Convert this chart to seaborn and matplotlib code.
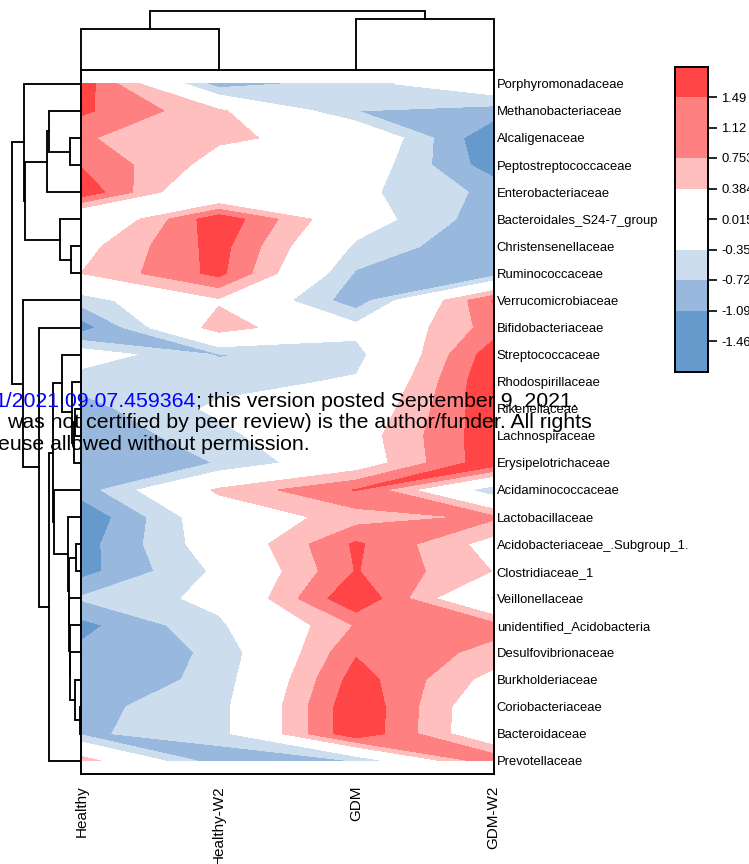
import numpy as np
import pandas as pd
import seaborn as sns
import matplotlib
matplotlib.use("Agg")
import matplotlib.pyplot as plt
from matplotlib.colors import ListedColormap
from matplotlib.tri import Triangulation

# ---------- data ----------
taxa = ["Porphyromonadaceae", "Methanobacteriaceae", "Alcaligenaceae", "Peptostreptococcaceae",
        "Enterobacteriaceae", "Bacteroidales_S24-7_group", "Christensenellaceae", "Ruminococcaceae",
        "Verrucomicrobiaceae", "Bifidobacteriaceae", "Streptococcaceae", "Rhodospirillaceae",
        "Rikenellaceae", "Lachnospiraceae", "Erysipelotrichaceae", "Acidaminococcaceae",
        "Lactobacillaceae", "Acidobacteriaceae_.Subgroup_1.", "Clostridiaceae_1", "Veillonellaceae",
        "unidentified_Acidobacteria", "Desulfovibrionaceae", "Burkholderiaceae", "Coriobacteriaceae",
        "Bacteroidaceae", "Prevotellaceae"]
groups = ["Healthy", "Healthy-W2", "GDM", "GDM-W2"]
healthy = [1.35, 1.19, .79, 1.09, 1.43, -.36, .23, .385, -.565, -1.3, -.09, -.6, -.87,
           -1.05, -.95, -.92, -1.41, -1.26, -1.23, -.68, -1.21, -1.0, -1.05, -.82, -.78, .6]
healthy_w2 = [-.92, .46, .45, .2, -.375, 1.4, 1.27, 1.23, .317, .62, -.75, -.5, -.27,
              -.47, -.71, .46, .03, -.07, -.27, -.23, -.43, -.66, -.6, -.52, -.52, -.98]
gdm = [-.5, -.72, .22, -.01, -.25, -.1, -.43, -.77, -.95, -.22, -.5, -.3, -.03,
       .15, .08, 1.14, .57, 1.18, 1.14, 1.47, .78, 1.08, 1.3, 1.44, 1.44, -.71]
gdm_w2 = [.025, -.895, -1.46, -1.31, -.83, -.96, -1.06, -.94, 1.15, .92, 1.35, 1.46, 1.41,
          1.38, 1.39, -.66, .82, .2, .37, -.42, .89, .64, .22, -.08, -.1, 1.05]

levels = [-1.83, -1.46, -1.09, -.722, -.353, .015, .384, .753, 1.12, 1.49, 1.86]
level_labels = ["1.49", "1.12", "0.753", "0.384", "0.015", "-0.353", "-0.722", "-1.09", "-1.46"]
band_colors = ["#6699CC", "#6699CC", "#99B8DD", "#CCDDEE", "#FFFFFF",
               "#FFFFFF", "#FFBFBF", "#FF8080", "#FF4545", "#FF4545"]

# dendrograms: (name, child, child, merge height); ints are leaves, strings earlier merges
row_merges = [("I", 2, 3, 11), ("H", 1, "I", 32.5), ("E", "H", 4, 34.3), ("G", 6, 7, 10.5),
              ("F", 5, "G", 21), ("C", "E", "F", 56.5), ("A", 0, "C", 57.3), ("T", 12, 13, 6),
              ("S", "T", 14, 7.5), ("R", 11, "S", 9), ("O", 10, "R", 19.3), ("Y", 17, 18, 5.7),
              ("X", 23, 24, 1.5), ("W", 22, "X", 6), ("V1", 21, "W", 11.4), ("V2", 20, "V1", 11.7),
              ("V3", 19, "V2", 12), ("U", "Y", "V3", 12.8), ("P", 16, "U", 13.7), ("Q", 15, "P", 27.7),
              ("N", "O", "Q", 28.2), ("L", "N", 25, 32.7), ("K", 9, "L", 42.6), ("J", 8, "K", 58),
              ("Z", "A", "J", 69)]
col_merges = [("a", 0, 1, 41.3), ("b", 2, 3, 51.7), ("c", "a", "b", 59)]

wm_blue = "1/2021.09.07.459364"
wm_line1 = "; this version posted September 9, 2021."
wm_line2 = "was not certified by peer review) is the author/funder. All rights"
wm_line3 = "euse allowed without permission."

# ---------- figure ----------
sns.set_theme(style="white")
SANS = ["Liberation Sans", "DejaVu Sans"]
plt.rcParams["font.family"] = SANS
W, H = 749, 864
fig = plt.figure(figsize=(W / 100, H / 100), dpi=100, facecolor="white")


def axes_px(l, t, r, b):
    return fig.add_axes([l / W, 1 - b / H, (r - l) / W, (b - t) / H])


L, T, R, B = 81.3, 70.3, 493.7, 774.3
frame = pd.DataFrame({"Healthy": healthy, "Healthy-W2": healthy_w2, "GDM": gdm, "GDM-W2": gdm_w2}, index=taxa)
Z = frame.values
nr, nc = Z.shape

ax = axes_px(L, T, R, B)
ax.contourf(np.arange(nc), np.arange(nr), Z, levels=levels, colors=band_colors, zorder=1)

# saddle cells are repainted level by level: at a saddle the band follows the diagonal
# whose corners differ least; where one corner is cut off the contour stays one straight edge
XX, YY = np.meshgrid(np.arange(nc), np.arange(nr))
px, py = XX.ravel().astype(float), YY.ravel().astype(float)


def is_saddle(tl, tr, bl, br, lv):
    return (min(tl, br) > lv > max(tr, bl)) or (min(tr, bl) > lv > max(tl, br))


cells = []
for i in range(nr - 1):
    for j in range(nc - 1):
        c = Z[i, j], Z[i, j + 1], Z[i + 1, j], Z[i + 1, j + 1]
        if any(is_saddle(*c, lv) for lv in levels):
            cells.append((i, j, c))

for k, lv in enumerate(levels[:-1]):
    tris = []
    for i, j, (tl, tr, bl, br) in cells:
        a, b, c_, d = i * nc + j, i * nc + j + 1, (i + 1) * nc + j, (i + 1) * nc + j + 1
        above = [tl >= lv, tr >= lv, bl >= lv, br >= lv]
        n = sum(above)
        if is_saddle(tl, tr, bl, br, lv) or n not in (1, 3):
            main_tl_br = abs(tl - br) < abs(tr - bl)
        else:
            odd = above.index(True) if n == 1 else above.index(False)
            main_tl_br = odd in (1, 2)  # keep the diagonal away from the corner that is cut
        if main_tl_br:
            tris += [[a, b, d], [a, d, c_]]
        else:
            tris += [[a, b, c_], [b, d, c_]]
    tri = Triangulation(px, py, np.array(tris))
    ax.tricontourf(tri, Z.ravel(), levels=[lv, 99], colors=[band_colors[k]], zorder=2 + k)

ax.set_xlim(0, nc - 1)
ax.set_ylim(nr - .5, -.5)
ax.set_xticks(np.arange(nc))
ax.set_xticklabels(groups, rotation=90, va="top", ha="center", fontsize=11, color="black", family=SANS)
ax.set_yticks(np.arange(nr))
ax.set_yticklabels(taxa, fontsize=9.4, color="black", family=SANS)
ax.yaxis.tick_right()
ax.tick_params(axis="y", length=0, pad=2.2)
ax.tick_params(axis="x", length=0, pad=8.2)
for s in ax.spines.values():
    s.set_visible(True)
    s.set_color("black")
    s.set_linewidth(1.4)
    s.set_zorder(20)


def draw_dendrogram(axd, merges, horizontal):
    pos = {}
    for name, a, b, h in merges:
        pa, ha_ = pos.get(a, (a, 0))
        pb, hb_ = pos.get(b, (b, 0))
        xs = [ha_, h, h, hb_]
        ys = [pa, pa, pb, pb]
        if not horizontal:
            xs, ys = ys, xs
        axd.plot(xs, ys, color="black", lw=1.35, solid_capstyle="projecting",
                 solid_joinstyle="miter", clip_on=False)
        pos[name] = ((pa + pb) / 2, h)


axl = axes_px(0, T, L, B)
draw_dendrogram(axl, row_merges, True)
axl.set_xlim(L, 0)
axl.set_ylim(nr - .5, -.5)
axl.axis("off")

axt = axes_px(L, 0, R, T)
draw_dendrogram(axt, col_merges, False)
axt.set_xlim(0, nc - 1)
axt.set_ylim(0, T)
axt.axis("off")

# colour key drawn through seaborn's heatmap
cax = axes_px(675.3, 66.5, 707.8, 371.5)
band_values = np.array(levels[:-1])[::-1].reshape(-1, 1)
sns.heatmap(band_values, ax=cax, cmap=ListedColormap(band_colors), cbar=False,
            vmin=levels[0], vmax=levels[-1], xticklabels=False, yticklabels=False)
cax.yaxis.tick_right()
cax.set_yticks(np.arange(1, len(level_labels) + 1))
cax.set_yticklabels(level_labels, rotation=0, fontsize=9.4, family=SANS, color="black")
cax.tick_params(axis="y", length=6.5, width=1.2, pad=3.2, color="black", right=True, left=False)
for s in cax.spines.values():
    s.set_visible(True)
    s.set_color("black")
    s.set_linewidth(1.4)

# overlaid preprint notice
fs = 15.35
kw = dict(va="baseline", fontsize=fs, family=SANS, zorder=20)
fig.text(195.5 / W, 1 - 407 / H, wm_blue, color="#0000FF", ha="right", **kw)
fig.text(195.5 / W, 1 - 407 / H, wm_line1, color="black", ha="left", **kw)
fig.text(592 / W, 1 - 428.5 / H, wm_line2, color="black", ha="right", **kw)
fig.text(310 / W, 1 - 450 / H, wm_line3, color="black", ha="right", **kw)

fig.savefig("out.png", dpi=100, facecolor="white")
